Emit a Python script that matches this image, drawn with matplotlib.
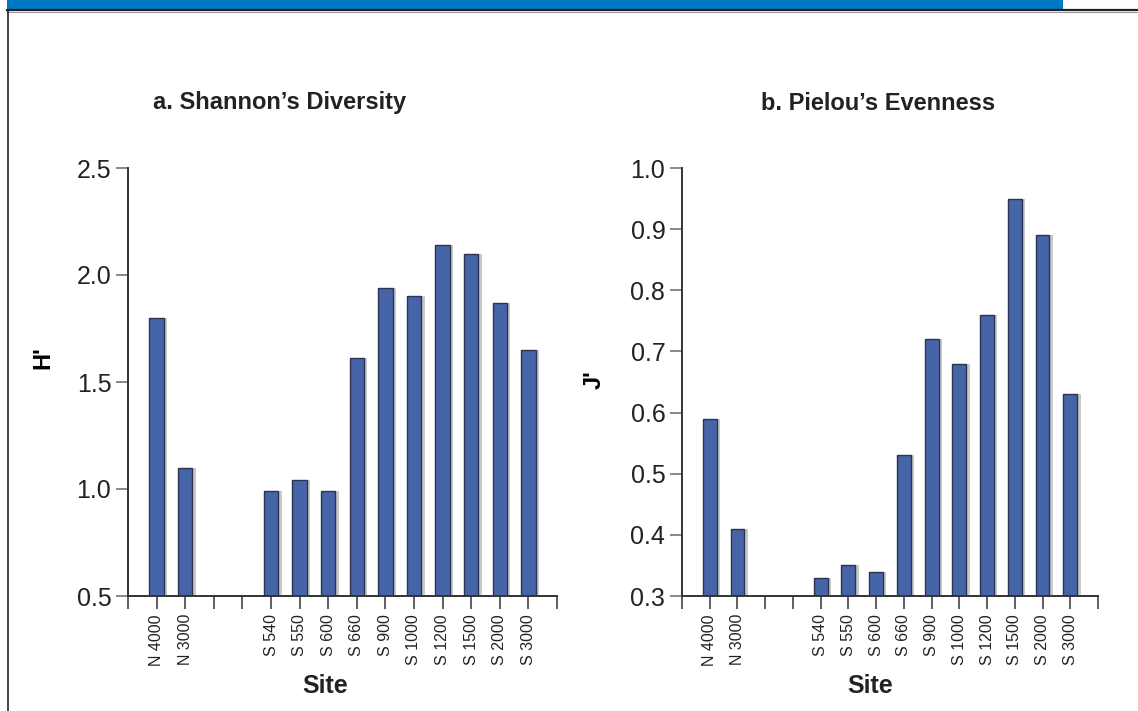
import matplotlib
matplotlib.use("Agg")
import matplotlib.pyplot as plt
from matplotlib.patches import Rectangle
from matplotlib.lines import Line2D

plt.rcParams['font.family'] = ['Liberation Sans', 'DejaVu Sans']

north_sites = ['N 4000', 'N 3000']
south_sites = ['S 540', 'S 550', 'S 600', 'S 660', 'S 900', 'S 1000',
               'S 1200', 'S 1500', 'S 2000', 'S 3000']

shannon_north = [1.80, 1.10]
shannon_south = [0.99, 1.04, 0.99, 1.61, 1.94, 1.90, 2.14, 2.10, 1.87, 1.65]

pielou_north = [0.59, 0.41]
pielou_south = [0.33, 0.35, 0.34, 0.53, 0.72, 0.68, 0.76, 0.95, 0.89, 0.63]

shannon_ticks = [0.5, 1.0, 1.5, 2.0, 2.5]
pielou_ticks = [0.3, 0.4, 0.5, 0.6, 0.7, 0.8, 0.9, 1.0]

W, H = 1138, 711
fig = plt.figure(figsize=(W / 100, H / 100), dpi=100)

# header decoration
fig.patches.append(Rectangle((7 / W, 1 - 9.5 / H), (1063 - 7) / W, 9.5 / H,
                             transform=fig.transFigure, facecolor='#0077C2',
                             edgecolor='none', zorder=0))
fig.lines.append(Line2D([7 / W, 1], [1 - 10 / H, 1 - 10 / H], transform=fig.transFigure,
                        color='#222222', lw=1.6))
fig.lines.append(Line2D([7 / W, 1], [1 - 11.5 / H, 1 - 11.5 / H], transform=fig.transFigure,
                        color='#999999', lw=0.8))
fig.lines.append(Line2D([8 / W, 8 / W], [0, 1 - 10 / H], transform=fig.transFigure,
                        color='#222222', lw=1.2))

gap = 2
n_pos = list(range(1, len(north_sites) + 1))
s_start = len(north_sites) + gap + 1
s_pos = list(range(s_start, s_start + len(south_sites)))
xmax = s_pos[-1] + 1

bar_color = '#4664A8'
edge_color = '#2B3350'


def panel(rect, north_vals, south_vals, ylim, yticks, ylabel, label_xy,
          title, title_x, site_x):
    ax = fig.add_axes(rect)
    positions = n_pos + s_pos
    values = north_vals + south_vals
    labels = north_sites + south_sites
    base = ylim[0]
    heights = [v - base for v in values]
    # shadow
    ax.bar([p + 0.12 for p in positions], heights, width=0.5, bottom=base,
           color='#888888', alpha=0.45, edgecolor='none', zorder=1)
    ax.bar(positions, heights, width=0.5, bottom=base, color=bar_color,
           edgecolor=edge_color, linewidth=1.0, zorder=2)
    ax.set_ylim(*ylim)
    ax.set_xlim(0, xmax)
    ax.set_yticks(yticks)
    ax.set_yticklabels([f'{t:.1f}' for t in yticks], fontsize=18, color='#222222')
    ax.set_xticks(range(0, xmax + 1))
    lab_map = dict(zip(positions, labels))
    ax.set_xticklabels([lab_map.get(i, '') for i in range(0, xmax + 1)],
                       rotation=90, fontsize=11.5, color='#222222')
    for s in ['top', 'right']:
        ax.spines[s].set_visible(False)
    for s in ['left', 'bottom']:
        ax.spines[s].set_color('#333333')
        ax.spines[s].set_linewidth(1.4)
    ax.tick_params(axis='y', direction='out', length=9, width=1.4, color='#888888', pad=3)
    ax.tick_params(axis='x', direction='out', length=9, width=1.2, color='#444444', pad=4)
    ax.set_ylabel(ylabel, fontsize=17, fontweight='bold')
    ax.yaxis.set_label_coords(*label_xy)
    fig.text(title_x / W, 1 - 103 / H, title, fontsize=17, fontweight='bold',
             ha='center', va='center', color='#222222')
    fig.text(site_x / W, 1 - 686 / H, 'Site', fontsize=18, fontweight='bold',
             ha='center', va='center', color='#222222')
    return ax


panel([128 / W, 1 - 596 / H, 429 / W, 428 / H], shannon_north, shannon_south,
      (0.5, 2.5), shannon_ticks, "H'", (-0.172, 0.556),
      "a. Shannon\u2019s Diversity", 280, 325)
panel([682 / W, 1 - 596 / H, 416 / W, 428 / H], pielou_north, pielou_south,
      (0.3, 1.0), pielou_ticks, "J'", (-0.183, 0.505),
      "b. Pielou\u2019s Evenness", 878, 870)

fig.savefig('out.png', dpi=100)
